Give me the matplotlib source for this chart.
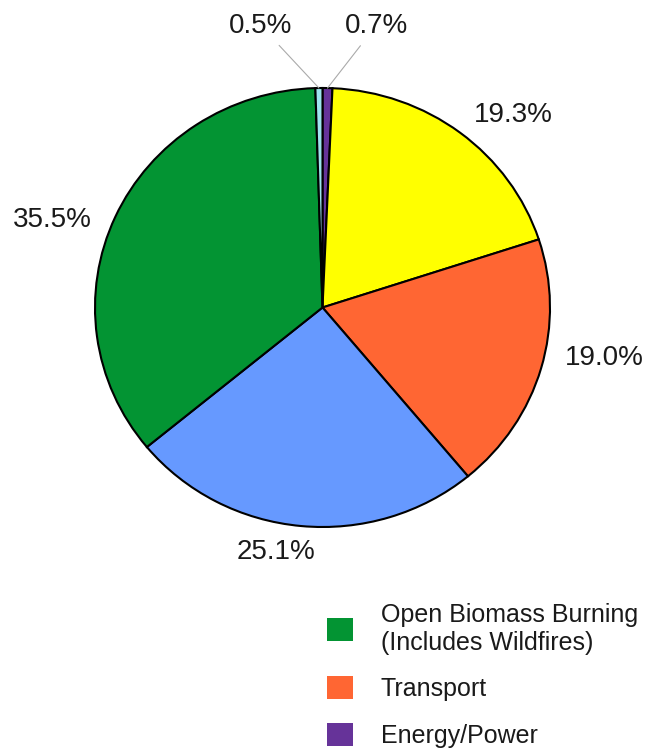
import matplotlib
matplotlib.use("Agg")
import numpy as np
import matplotlib.pyplot as plt
from matplotlib.patches import Patch

plt.rcParams['font.family'] = ['Liberation Sans', 'DejaVu Sans']

# shares going clockwise from 12 o'clock
sectors = ["Energy/Power", "Sector B", "Transport", "Sector D",
           "Open Biomass Burning\n(Includes Wildfires)", "Sector F"]
shares = [0.7, 19.3, 19.0, 25.1, 35.5, 0.5]
colors = ["#663399", "#FFFF00", "#FF6633", "#6699FF", "#039433", "#9EE6EE"]
pct_labels = ["0.7%", "19.3%", "19.0%", "25.1%", "35.5%", "0.5%"]

legend_names = ["Open Biomass Burning\n(Includes Wildfires)", "Transport", "Energy/Power"]
legend_colors = ["#039433", "#FF6633", "#663399"]

W, H = 646, 751
fig = plt.figure(figsize=(W / 100, H / 100), dpi=100)
ax = fig.add_axes([95 / W, 224 / H, 455 / W, 439 / H])

big = [s >= 5 for s in shares]
wedges, texts = ax.pie(
    shares, colors=colors, startangle=90, counterclock=False,
    labels=[p if b else "" for p, b in zip(pct_labels, big)],
    labeldistance=1.1,
    wedgeprops=dict(edgecolor="black", linewidth=1.5),
    textprops=dict(fontsize=20, color="#1a1a1a"),
)
ax.set_aspect("auto")
ax.set_xlim(-1, 1)
ax.set_ylim(-1, 1)
ax.axis("off")

# hand-placed anchors for a few labels (best-fit style placement)
label_pos = {2: (1.064, -0.228), 3: (-0.031, -1.116), 4: (-1.015, 0.40)}
for i, pos in label_pos.items():
    texts[i].set_position(pos)

# tiny slices get leader lines up to labels above the pie
offsets = {0: (35, 45), 5: (-42, 45)}
for i, (dx, dy) in offsets.items():
    w = wedges[i]
    mid = np.deg2rad((w.theta1 + w.theta2) / 2)
    ax.annotate(pct_labels[i], xy=(np.cos(mid), np.sin(mid)),
                xytext=(dx, dy), textcoords="offset points",
                ha="center", va="center", fontsize=20, color="#1a1a1a",
                arrowprops=dict(arrowstyle="-", color="#aaaaaa", lw=0.8,
                                shrinkA=4, shrinkB=0))

handles = [Patch(facecolor=c, edgecolor="none") for c in legend_colors]
fig.legend(handles, legend_names, loc="upper left",
           bbox_to_anchor=(327 / W, 1 - 603 / H), frameon=False,
           fontsize=18, handlelength=1.05, handleheight=1.05,
           handletextpad=1.1, labelspacing=0.86, borderpad=0,
           borderaxespad=0, labelcolor="#1a1a1a")

fig.savefig("out.png", dpi=100)
